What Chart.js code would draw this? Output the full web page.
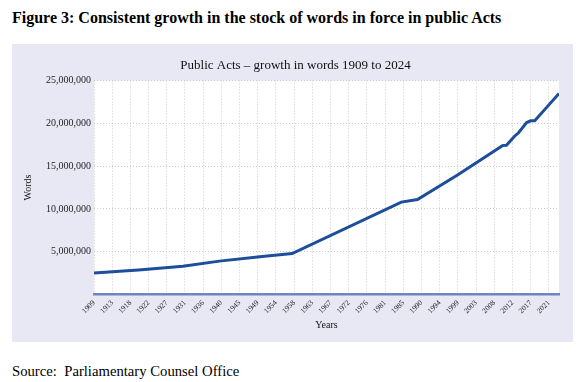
<!DOCTYPE html>
<html>
<head>
<meta charset="utf-8">
<script src="https://cdn.jsdelivr.net/npm/chart.js@4/dist/chart.umd.min.js"></script>
<style>
  html, body { margin: 0; padding: 0; background: #ffffff; }
  body { width: 586px; height: 382px; position: relative; overflow: hidden;
         font-family: 'Liberation Serif', 'Times New Roman', serif; color: #000; }
  #figtitle { position: absolute; left: 12px; top: 8px; font-size: 16px; line-height: 20px;
              font-weight: bold; white-space: nowrap; }
  #panel { position: absolute; left: 12px; top: 44px; width: 561px; height: 298px; background: #e8e8f4; }
  #source { position: absolute; left: 12px; top: 362px; font-size: 14.7px; line-height: 18px; white-space: pre; }
</style>
</head>
<body>
<div id="figtitle">Figure 3: Consistent growth in the stock of words in force in public Acts</div>
<div id="panel"><canvas id="c" width="561" height="298"></canvas></div>
<div id="source">Source:  Parliamentary Counsel Office</div>
<script>
// ---- data ----
const years = [1909, 1920, 1931, 1940, 1950, 1958, 1985, 1989, 1999, 2010, 2011, 2013, 2014, 2016, 2017, 2018, 2021, 2024];
const words = [2500000, 2850000, 3300000, 3900000, 4400000, 4780000, 10800000, 11100000, 14000000, 17400000, 17450000, 18500000, 18900000, 20100000, 20300000, 20300000, 21900000, 23500000];
const tickLabels = ['1909','1913','1918','1922','1927','1931','1936','1940','1945','1949','1954','1958','1963','1967','1972','1976','1981','1985','1990','1994','1999','2003','2008','2012','2017','2021'];
const tickStepYears = 4.5;
const chartTitle = 'Public Acts \u2013 growth in words 1909 to 2024';

const serif = "'Liberation Serif', 'Times New Roman', serif";

const plotBg = {
  id: 'plotBg',
  beforeDraw(chart) {
    const {ctx, chartArea: a} = chart;
    ctx.save();
    ctx.fillStyle = '#ffffff';
    ctx.fillRect(a.left, a.top, a.right - a.left, a.bottom - a.top);
    ctx.restore();
  }
};

new Chart(document.getElementById('c'), {
  type: 'line',
  data: {
    datasets: [{
      data: years.map((y, i) => ({x: y, y: words[i]})),
      borderColor: '#1d4e9c',
      borderWidth: 3,
      pointRadius: 0,
      tension: 0,
      fill: false,
      yAxisID: 'y'
    }]
  },
  options: {
    responsive: false,
    animation: false,
    layout: { padding: { left: 6, right: 0, top: 0, bottom: 0 } },
    plugins: {
      legend: { display: false },
      tooltip: { enabled: false },
      title: {
        display: true,
        text: chartTitle,
        color: '#111',
        font: { family: serif, size: 13, weight: 'normal' },
        padding: { top: 14, bottom: 7 }
      }
    },
    scales: {
      x: {
        type: 'linear',
        min: 1909,
        max: 2024,
        afterBuildTicks(scale) {
          scale.ticks = tickLabels.map((l, i) => ({ value: 1909 + i * tickStepYears }));
        },
        afterFit(scale) { scale.height = 47.5; },
        ticks: {
          autoSkip: false,
          minRotation: 45,
          maxRotation: 45,
          padding: 4,
          color: '#222',
          font: { family: serif, size: 7.5 },
          callback: (v, i) => tickLabels[i]
        },
        grid: { color: '#cccccc', lineWidth: 1, drawTicks: false },
        border: { display: true, color: '#6c86bf', width: 2.5, dash: [1, 2] },
        title: {
          display: true, text: 'Years', color: '#111',
          font: { family: serif, size: 10 },
          padding: { top: 0, bottom: 11 }
        }
      },
      y: {
        min: 0,
        max: 25000000,
        afterFit(scale) { scale.width = 76; },
        ticks: {
          stepSize: 5000000,
          padding: 3,
          color: '#222',
          font: { family: serif, size: 10 },
          callback: (v) => v === 0 ? '' : v.toLocaleString('en-US')
        },
        grid: { color: '#cccccc', lineWidth: 1, drawTicks: false },
        border: { display: false, dash: [1, 2] },
        title: {
          display: true, text: 'Words', color: '#111',
          font: { family: serif, size: 10 },
          padding: { top: 4, bottom: 0 }
        }
      },
      yRight: {
        position: 'right',
        display: true,
        min: 0,
        max: 1,
        afterFit(scale) { scale.width = 14; },
        ticks: { display: false },
        grid: { display: false, drawTicks: false },
        border: { display: false }
      }
    }
  },
  plugins: [plotBg]
});
</script>
</body>
</html>
